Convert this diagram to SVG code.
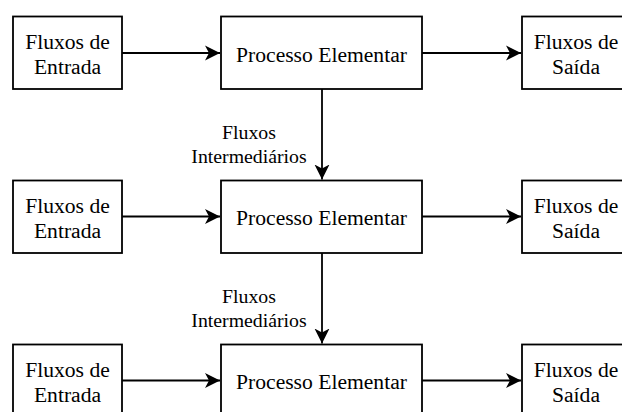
<svg xmlns="http://www.w3.org/2000/svg" width="622" height="412" viewBox="0 0 622 412">
<style>
.box{fill:#fff;stroke:#000;stroke-width:1.8}
text{font-family:'Liberation Serif','Times New Roman',Times,serif;fill:#000;text-anchor:middle}
.t{font-size:21.6px}
.l{font-size:19.8px}
.c{fill:none;stroke:#000;stroke-width:1.8}
</style>
<defs>
<marker id="arr" viewBox="0 0 16 16" refX="15" refY="8" markerWidth="16" markerHeight="16" markerUnits="userSpaceOnUse" orient="auto">
<path d="M15,8 L0,0.5 L4,8 L0,15.5 Z" fill="#000"/>
</marker>
</defs>
<rect width="622" height="412" fill="#fff"/>
<g id="connectors">
<line class="c" x1="122" y1="53" x2="220" y2="53" marker-end="url(#arr)"/>
<line class="c" x1="422" y1="53" x2="521" y2="53" marker-end="url(#arr)"/>
<line class="c" x1="322" y1="89" x2="322" y2="179.5" marker-end="url(#arr)"/>
<line class="c" x1="122" y1="216.5" x2="220" y2="216.5" marker-end="url(#arr)"/>
<line class="c" x1="422" y1="216.5" x2="521" y2="216.5" marker-end="url(#arr)"/>
<line class="c" x1="322" y1="253" x2="322" y2="343.5" marker-end="url(#arr)"/>
<line class="c" x1="122" y1="380.5" x2="220" y2="380.5" marker-end="url(#arr)"/>
<line class="c" x1="422" y1="380.5" x2="521" y2="380.5" marker-end="url(#arr)"/>
<text class="l" x="249" y="139" font-family="Liberation Serif, serif">Fluxos</text>
<text class="l" x="249" y="163" font-family="Liberation Serif, serif">Intermediários</text>
<text class="l" x="249" y="303" font-family="Liberation Serif, serif">Fluxos</text>
<text class="l" x="249" y="327" font-family="Liberation Serif, serif">Intermediários</text>
</g>
<g id="in1"><rect class="box" x="13" y="16.5" width="109" height="72.5"/><text class="t" x="67.5" y="49">Fluxos de</text><text class="t" x="67.5" y="74">Entrada</text></g>
<g id="proc1"><rect class="box" x="221" y="16.5" width="201" height="72.5"/><text class="t" x="321.5" y="61.5">Processo Elementar</text></g>
<g id="out1"><rect class="box" x="522" y="16.5" width="109" height="72.5"/><text class="t" x="576" y="49">Fluxos de</text><text class="t" x="576" y="74">Saída</text></g>
<g id="in2"><rect class="box" x="13" y="180.5" width="109" height="72.5"/><text class="t" x="67.5" y="213">Fluxos de</text><text class="t" x="67.5" y="238">Entrada</text></g>
<g id="proc2"><rect class="box" x="221" y="180.5" width="201" height="72.5"/><text class="t" x="321.5" y="225">Processo Elementar</text></g>
<g id="out2"><rect class="box" x="522" y="180.5" width="109" height="72.5"/><text class="t" x="576" y="213">Fluxos de</text><text class="t" x="576" y="238">Saída</text></g>
<g id="in3"><rect class="box" x="13" y="344.5" width="109" height="72.5"/><text class="t" x="67.5" y="377">Fluxos de</text><text class="t" x="67.5" y="402">Entrada</text></g>
<g id="proc3"><rect class="box" x="221" y="344.5" width="201" height="72.5"/><text class="t" x="321.5" y="389">Processo Elementar</text></g>
<g id="out3"><rect class="box" x="522" y="344.5" width="109" height="72.5"/><text class="t" x="576" y="377">Fluxos de</text><text class="t" x="576" y="402">Saída</text></g>
</svg>
